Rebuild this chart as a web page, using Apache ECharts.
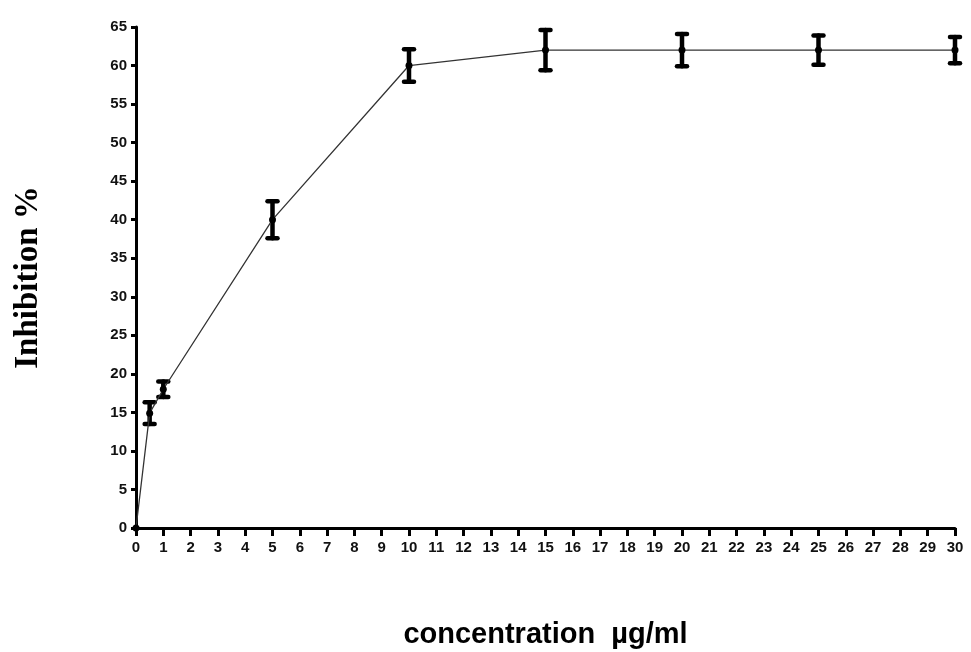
<!DOCTYPE html>
<html>
<head>
<meta charset="utf-8">
<script src="https://cdn.jsdelivr.net/npm/echarts@6/dist/echarts.min.js"></script>
<style>html,body{margin:0;padding:0;background:#fff;}#c{width:971px;height:652px;}</style>
</head>
<body>
<div id="c"></div>
<script>
const concentrations = [0, 0.5, 1, 5, 10, 15, 20, 25, 30];
const inhibition = [0, 14.9, 18.0, 40.0, 60.0, 62.0, 62.0, 62.0, 62.0];
const errors = [0, 1.4, 1.0, 2.4, 2.1, 2.6, 2.1, 1.9, 1.7];
const xTitle = 'concentration  µg/ml';
const yTitle = 'Inhibition %';

const points = concentrations.map((x, i) => [x, inhibition[i]]);
const errData = concentrations.map((x, i) => [x, inhibition[i] - errors[i], inhibition[i] + errors[i]]).filter((d, i) => errors[i] > 0);

const chart = echarts.init(document.getElementById('c'), null, {renderer: 'canvas'});
const labelStyle = {color: '#111', fontFamily: 'Liberation Sans, Arial, sans-serif', fontWeight: 'bold', fontSize: 15};
chart.setOption({
  backgroundColor: '#fff',
  animation: false,
  grid: {left: 136, right: 16, top: 27, bottom: 124, containLabel: false, outerBoundsMode: 'none'},
  xAxis: {
    type: 'value', min: 0, max: 30, interval: 1,
    name: xTitle, nameLocation: 'middle', nameGap: 92,
    nameTextStyle: {color: '#000', fontFamily: 'Liberation Sans, Arial, sans-serif', fontWeight: 'bold', fontSize: 29},
    axisLine: {show: true, lineStyle: {color: '#000', width: 3}},
    axisTick: {show: true, length: 8, lineStyle: {color: '#000', width: 3}},
    axisLabel: Object.assign({margin: 12}, labelStyle),
    splitLine: {show: false}
  },
  yAxis: {
    type: 'value', min: 0, max: 65, interval: 5,
    name: yTitle, nameLocation: 'middle', nameGap: 91, nameRotate: 90,
    nameTextStyle: {color: '#000', fontFamily: 'Liberation Serif, Times New Roman, serif', fontWeight: 'bold', fontSize: 33},
    axisLine: {show: true, lineStyle: {color: '#000', width: 3}},
    axisTick: {show: true, length: 5, lineStyle: {color: '#000', width: 3}},
    axisLabel: Object.assign({margin: 9}, labelStyle),
    splitLine: {show: false}
  },
  series: [
    {
      type: 'line', data: points, symbol: 'circle', symbolSize: 7,
      lineStyle: {color: '#333', width: 1.3},
      itemStyle: {color: '#000'},
      z: 5
    },
    {
      type: 'custom',
      data: errData,
      z: 4,
      renderItem: function (params, api) {
        const x = api.value(0);
        const lo = api.coord([x, api.value(1)]);
        const hi = api.coord([x, api.value(2)]);
        const hw = 5;
        const st = {stroke: '#000', lineWidth: 4.5, lineCap: 'round'};
        return {
          type: 'group',
          children: [
            {type: 'line', shape: {x1: lo[0], y1: lo[1], x2: hi[0], y2: hi[1]}, style: st},
            {type: 'line', shape: {x1: lo[0] - hw, y1: lo[1], x2: lo[0] + hw, y2: lo[1]}, style: st},
            {type: 'line', shape: {x1: hi[0] - hw, y1: hi[1], x2: hi[0] + hw, y2: hi[1]}, style: st}
          ]
        };
      }
    }
  ]
});
</script>
</body>
</html>
